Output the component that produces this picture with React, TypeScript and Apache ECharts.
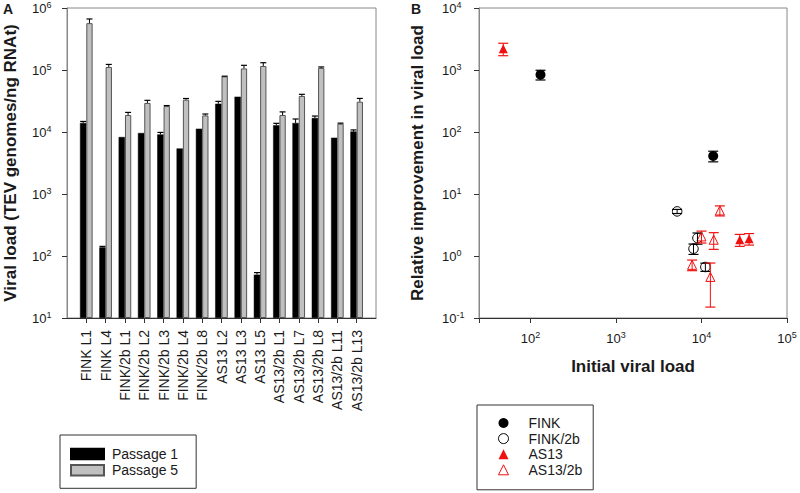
import React, { useEffect, useRef } from 'react';
import * as echarts from 'echarts';

// ---------- Panel A data ----------
const categories = ['FINK L1', 'FINK L4', 'FINK/2b L1', 'FINK/2b L2', 'FINK/2b L3', 'FINK/2b L4', 'FINK/2b L8', 'AS13 L2', 'AS13 L3', 'AS13 L5', 'AS13/2b L1', 'AS13/2b L7', 'AS13/2b L8', 'AS13/2b L11', 'AS13/2b L13'];
const passage1 = [14000, 138, 8300, 9640, 9140, 5430, 11300, 28600, 37100, 50, 12800, 14000, 16800, 8090, 10200];
const passage1Err = [800, 5, 0, 0, 700, 0, 0, 2600, 0, 4, 1000, 2200, 1300, 0, 600];
const passage5 = [570000, 112000, 18800, 29400, 26200, 33200, 18500, 79000, 106000, 116000, 18800, 38100, 108000, 13600, 30800];
const passage5Err = [95000, 11000, 1900, 3000, 500, 1500, 1000, 500, 13000, 15000, 2300, 2400, 4000, 300, 4000];

// ---------- Panel B data ----------
const finkX = [131, 13700];
const finkY = [840, 41];
const finkErr = [150, 8];
const fink2bX = [5190, 8970, 8060, 11100];
const fink2bY = [5.24, 1.95, 1.31, 0.665];
const fink2bErr = [0.4, 0.4, 0.25, 0.1];
const as13X = [48, 28000, 36000];
const as13Y = [2200, 1.83, 1.9];
const as13Err = [500, 0.4, 0.4];
const as132bX = [16400, 10000, 13900, 7770, 12700];
const as132bY = [5.43, 2.07, 1.83, 0.72, 0.46];
const as132bErr = [1.0, 0.45, 0.55, 0.14, 0.31];

const FONT = '"Liberation Sans", Arial, Helvetica, sans-serif';
const TXT = '#1a1a1a';
const RED = '#f01010';

function powLabel(v: number) {
  const e = Math.log10(v);
  const r = Math.round(e);
  if (Math.abs(e - r) > 1e-6) return '';
  return `10{s|${r}}`;
}
const rich = {
  s: { fontSize: 9, fontFamily: FONT, color: TXT, lineHeight: 16, verticalAlign: 'top' },
};
const powAxisLabel = { formatter: powLabel, rich, fontSize: 13, lineHeight: 16, color: TXT, fontFamily: FONT };

function errBarA(offset: number) {
  return (params: any, api: any) => {
    const idx = api.value(0);
    const val = api.value(1);
    const err = api.value(2);
    const base = api.coord([idx, val]);
    const top = api.coord([idx, val + err]);
    const x = base[0] + offset;
    const hw = 3;
    return {
      type: 'group',
      children: [
        { type: 'line', shape: { x1: x, y1: base[1], x2: x, y2: top[1] }, style: { stroke: '#000', lineWidth: 1 } },
        { type: 'line', shape: { x1: x - hw, y1: top[1], x2: x + hw, y2: top[1] }, style: { stroke: '#000', lineWidth: 1.2 } },
      ],
    };
  };
}

function errBarB(color: string) {
  return (params: any, api: any) => {
    const x = api.value(0);
    const y = api.value(1);
    const e = api.value(2);
    const p = api.coord([x, y + e]);
    const q = api.coord([x, y - e]);
    const hw = 5;
    return {
      type: 'group',
      children: [
        { type: 'line', shape: { x1: p[0], y1: p[1], x2: q[0], y2: q[1] }, style: { stroke: color, lineWidth: 1 } },
        { type: 'line', shape: { x1: p[0] - hw, y1: p[1], x2: p[0] + hw, y2: p[1] }, style: { stroke: color, lineWidth: 1.2 } },
        { type: 'line', shape: { x1: q[0] - hw, y1: q[1], x2: q[0] + hw, y2: q[1] }, style: { stroke: color, lineWidth: 1.2 } },
      ],
    };
  };
}

export default function App() {
  const ref = useRef<HTMLDivElement>(null);
  useEffect(() => {
    if (!ref.current) return;
    const chart = echarts.init(ref.current, undefined, { renderer: 'svg' });
    const catData = ['', ...categories, ''];
    const p1Err = passage1.map((v, i) => [i + 1, v, passage1Err[i]]).filter((d) => d[2] > 0);
    const p5Err = passage5.map((v, i) => [i + 1, v, passage5Err[i]]).filter((d) => d[2] > 0);
    const pts = (xs: number[], ys: number[]) => xs.map((x, i) => [x, ys[i]]);
    const errPts = (xs: number[], ys: number[], es: number[]) => xs.map((x, i) => [x, ys[i], es[i]]);

    const option: any = {
      animation: false,
      backgroundColor: '#fff',
      textStyle: { fontFamily: FONT, color: TXT },
      grid: [
        { left: 67, top: 8, width: 309, height: 310, show: true, borderColor: '#888', borderWidth: 1, backgroundColor: 'transparent' },
        { left: 479, top: 8, width: 308, height: 310, show: true, borderColor: '#888', borderWidth: 1, backgroundColor: 'transparent' },
      ],
      xAxis: [
        {
          type: 'category',
          gridIndex: 0,
          data: catData,
          boundaryGap: false,
          axisLine: { lineStyle: { color: '#333', width: 1 } },
          axisTick: { length: 5, interval: (i: number, v: string) => v !== '', lineStyle: { color: '#333' } },
          axisLabel: { interval: 0, rotate: 90, margin: 12, fontSize: 14, color: TXT, fontFamily: FONT },
          splitLine: { show: false },
        },
        {
          type: 'log',
          gridIndex: 1,
          min: 25,
          max: 100000,
          logBase: 10,
          axisLine: { lineStyle: { color: '#333', width: 1 } },
          axisTick: { length: 5, lineStyle: { color: '#333' } },
          axisLabel: { ...powAxisLabel, margin: 12 },
          splitLine: { show: false },
          minorTick: { show: false },
          name: 'Initial viral load',
          nameLocation: 'middle',
          nameGap: 40,
          nameTextStyle: { fontSize: 17, fontWeight: 'bold', color: TXT, fontFamily: FONT },
        },
      ],
      yAxis: [
        {
          type: 'log',
          gridIndex: 0,
          min: 10,
          max: 1000000,
          logBase: 10,
          startValue: 10,
          axisLine: { show: true, lineStyle: { color: '#888', width: 1 } },
          axisTick: { show: true, length: 5, lineStyle: { color: '#333' } },
          axisLabel: { ...powAxisLabel, align: 'left', margin: 35 },
          splitLine: { show: false },
          name: 'Viral load (TEV genomes/ng RNAt)',
          nameLocation: 'middle',
          nameGap: 48,
          nameTextStyle: { fontSize: 17, fontWeight: 'bold', color: TXT, fontFamily: FONT },
        },
        {
          type: 'log',
          gridIndex: 1,
          min: 0.1,
          max: 10000,
          logBase: 10,
          axisLine: { show: true, lineStyle: { color: '#888', width: 1 } },
          axisTick: { show: true, length: 5, lineStyle: { color: '#333' } },
          axisLabel: { ...powAxisLabel, align: 'left', margin: 37 },
          splitLine: { show: false },
          name: 'Relative improvement in viral load',
          nameLocation: 'middle',
          nameGap: 53,
          nameTextStyle: { fontSize: 17, fontWeight: 'bold', color: TXT, fontFamily: FONT },
        },
      ],
      legend: [
        {
          data: ['Passage 1', 'Passage 5'],
          orient: 'vertical',
          left: 60,
          top: 435,
          padding: [12, 18, 11, 10],
          itemGap: 2.3,
          itemWidth: 33,
          itemHeight: 10.5,
          icon: 'rect',
          borderColor: '#333',
          borderWidth: 1,
          selectedMode: false,
          textStyle: { fontSize: 14, color: TXT, fontFamily: FONT, padding: [0, 0, 0, 3] },
        },
        {
          data: ['FINK', 'FINK/2b', 'AS13', 'AS13/2b'],
          orient: 'vertical',
          left: 477,
          top: 405,
          padding: [11, 11, 13, 21],
          itemGap: 1.6,
          itemWidth: 10,
          itemHeight: 10,
          borderColor: '#333',
          borderWidth: 1,
          selectedMode: false,
          itemStyle: { borderWidth: 1 },
          textStyle: { fontSize: 14, color: TXT, fontFamily: FONT, padding: [0, 0, 0, 15] },
        },
      ],
      graphic: [
        { type: 'text', left: 3, top: 2, style: { text: 'A', font: `bold 14px ${FONT}`, fill: TXT } },
        { type: 'text', left: 411, top: 2, style: { text: 'B', font: `bold 14px ${FONT}`, fill: TXT } },
      ],
      series: [
        {
          name: 'Passage 1',
          type: 'bar',
          xAxisIndex: 0,
          yAxisIndex: 0,
          data: ['-', ...passage1, '-'],
          barWidth: 6.3,
          barGap: '0%',
          itemStyle: { color: '#000', borderColor: '#000', borderWidth: 0.5 },
          clip: true,
        },
        {
          name: 'Passage 5',
          type: 'bar',
          xAxisIndex: 0,
          yAxisIndex: 0,
          data: ['-', ...passage5, '-'],
          barWidth: 6.3,
          barGap: '0%',
          itemStyle: { color: '#c0c0c0', borderColor: '#555', borderWidth: 1 },
          clip: true,
        },
        { type: 'custom', xAxisIndex: 0, yAxisIndex: 0, data: p1Err, renderItem: errBarA(-3.15), z: 5 },
        { type: 'custom', xAxisIndex: 0, yAxisIndex: 0, data: p5Err, renderItem: errBarA(3.15), z: 5 },
        {
          name: 'FINK', type: 'scatter', xAxisIndex: 1, yAxisIndex: 1, data: pts(finkX, finkY),
          symbol: 'circle', symbolSize: 10, itemStyle: { color: '#000', opacity: 1 },
        },
        {
          name: 'FINK/2b', type: 'scatter', xAxisIndex: 1, yAxisIndex: 1, data: pts(fink2bX, fink2bY),
          symbol: 'circle', symbolSize: 9.5, itemStyle: { color: '#fff', borderColor: '#000', borderWidth: 1, opacity: 1 },
        },
        {
          name: 'AS13', type: 'scatter', xAxisIndex: 1, yAxisIndex: 1, data: pts(as13X, as13Y),
          symbol: 'triangle', symbolSize: 9, itemStyle: { color: RED, opacity: 1 },
        },
        {
          name: 'AS13/2b', type: 'scatter', xAxisIndex: 1, yAxisIndex: 1, data: pts(as132bX, as132bY),
          symbol: 'triangle', symbolSize: 9, itemStyle: { color: '#fff', borderColor: RED, borderWidth: 1, opacity: 1 },
        },
        { type: 'custom', xAxisIndex: 1, yAxisIndex: 1, data: errPts(finkX, finkY, finkErr), renderItem: errBarB('#000'), z: 5 },
        { type: 'custom', xAxisIndex: 1, yAxisIndex: 1, data: errPts(fink2bX, fink2bY, fink2bErr), renderItem: errBarB('#000'), z: 5 },
        { type: 'custom', xAxisIndex: 1, yAxisIndex: 1, data: errPts(as13X, as13Y, as13Err), renderItem: errBarB(RED), z: 5 },
        { type: 'custom', xAxisIndex: 1, yAxisIndex: 1, data: errPts(as132bX, as132bY, as132bErr), renderItem: errBarB(RED), z: 5 },
      ],
    };
    chart.setOption(option);
    return () => chart.dispose();
  }, []);
  return <div ref={ref} style={{ position: 'fixed', left: 0, top: 0, width: 800, height: 493, background: '#fff' }} />;
}
